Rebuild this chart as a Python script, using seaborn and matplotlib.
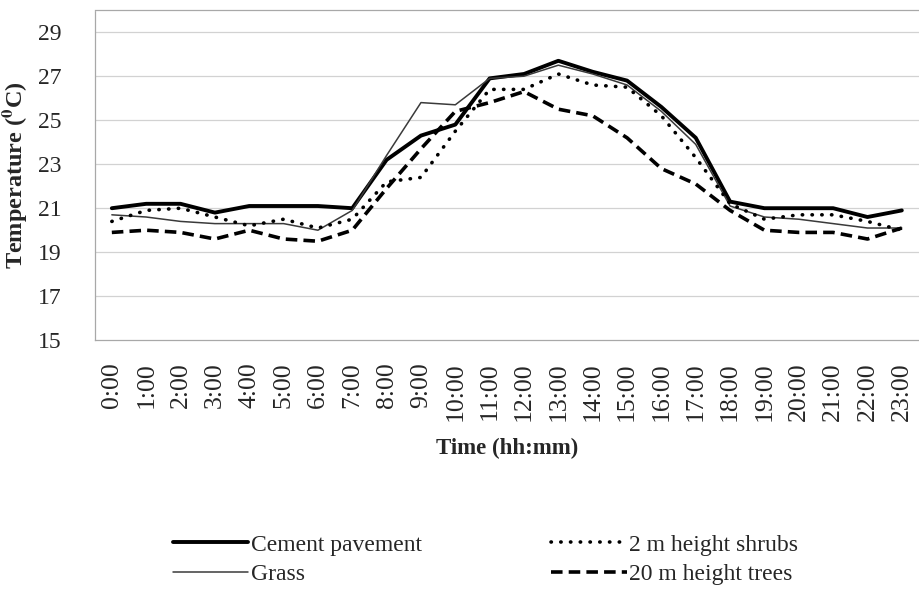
import matplotlib
matplotlib.use("Agg")
import matplotlib.pyplot as plt
import seaborn as sns
import pandas as pd

# Hourly air temperature over four surface types
hours = ["0:00", "1:00", "2:00", "3:00", "4:00", "5:00", "6:00", "7:00",
         "8:00", "9:00", "10:00", "11:00", "12:00", "13:00", "14:00", "15:00",
         "16:00", "17:00", "18:00", "19:00", "20:00", "21:00", "22:00", "23:00"]

cement = [21.0, 21.2, 21.2, 20.8, 21.1, 21.1, 21.1, 21.0, 23.2, 24.3, 24.8, 26.9,
          27.1, 27.7, 27.2, 26.8, 25.6, 24.2, 21.3, 21.0, 21.0, 21.0, 20.6, 20.9]
grass = [20.7, 20.6, 20.4, 20.3, 20.3, 20.3, 20.0, 20.9, 23.4, 25.8, 25.7, 26.9,
         27.0, 27.5, 27.1, 26.6, 25.4, 23.9, 21.1, 20.6, 20.5, 20.3, 20.1, 20.1]
shrubs = [20.4, 20.9, 21.0, 20.6, 20.2, 20.5, 20.1, 20.5, 22.2, 22.4, 24.5, 26.4,
          26.4, 27.1, 26.6, 26.5, 25.2, 23.3, 21.2, 20.5, 20.7, 20.7, 20.4, 20.0]
trees = [19.9, 20.0, 19.9, 19.6, 20.0, 19.6, 19.5, 20.0, 21.9, 23.7, 25.4, 25.8,
         26.3, 25.5, 25.2, 24.2, 22.8, 22.1, 20.9, 20.0, 19.9, 19.9, 19.6, 20.1]

series_names = ["Cement pavement", "Grass", "2 m height shrubs", "20 m height trees"]
y_ticks = [15, 17, 19, 21, 23, 25, 27, 29]

sns.set_style("white")
plt.rcParams["font.family"] = ["Liberation Serif", "DejaVu Serif"]
plt.rcParams["mathtext.fontset"] = "stix"

df = pd.DataFrame({"hour": list(range(len(hours))),
                   series_names[0]: cement, series_names[1]: grass,
                   series_names[2]: shrubs, series_names[3]: trees})

fig = plt.figure(figsize=(9.19, 5.99), dpi=100)
ax = fig.add_axes([0.103, 0.432, 0.897, 0.551])

styles = {
    series_names[0]: dict(color="black", linewidth=2.8, linestyle="-"),
    series_names[1]: dict(color="#3a3a3a", linewidth=1.1, linestyle="-"),
    series_names[2]: dict(color="black", linewidth=2.6, linestyle=(0, (0.1, 2.6)),
                          dash_capstyle="round"),
    series_names[3]: dict(color="black", linewidth=2.6, linestyle=(0, (3.2, 1.7))),
}

for name in series_names:
    sns.lineplot(data=df, x="hour", y=name, ax=ax, label=name, legend=False,
                 **styles[name])

ax.set_xlim(-0.5, len(hours) - 0.5)
ax.set_ylim(15, 30)
ax.set_yticks(y_ticks)
ax.set_yticklabels([str(t) for t in y_ticks], fontsize=17)
ax.set_xticks(range(len(hours)))
ax.set_xticklabels(hours, rotation=90, fontsize=18.5)
ax.tick_params(axis="both", length=0)
ax.tick_params(axis="y", pad=24)
ax.tick_params(axis="x", pad=16)

for t in y_ticks[1:]:
    ax.axhline(t, color="#d2d2d2", linewidth=0.9, zorder=0)

for side in ["top", "left", "bottom"]:
    ax.spines[side].set_color("#a8a8a8")
    ax.spines[side].set_linewidth(0.9)
ax.spines["left"].set_linestyle((0, (2, 1)))
ax.spines["right"].set_visible(False)

ax.set_xlabel("Time (hh:mm)", fontsize=16.5, fontweight="bold", labelpad=12)
ax.set_ylabel(r"Temperature ($^{\mathbf{0}}$C)", fontsize=17.5, fontweight="bold",
              labelpad=6)

handles, labels = ax.get_legend_handles_labels()
fig.legend(handles, labels, ncol=2, loc="upper left",
           bbox_to_anchor=(0.175, 0.128), frameon=False, fontsize=17,
           handlelength=3.2, handletextpad=0.1, columnspacing=5.5,
           labelspacing=0.35, borderpad=0)

fig.savefig("out.png", dpi=100)
